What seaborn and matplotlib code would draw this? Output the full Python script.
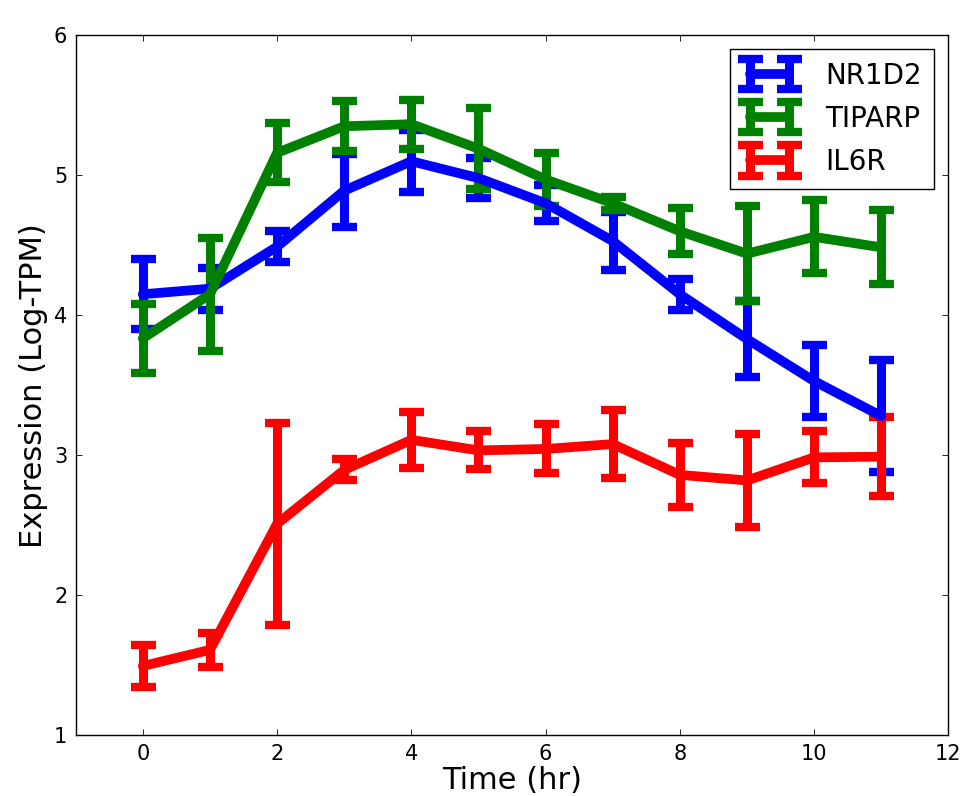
import numpy as np
import pandas as pd
import matplotlib
matplotlib.use('Agg')
import matplotlib.pyplot as plt
from matplotlib.legend_handler import HandlerErrorbar
import seaborn as sns


# values
time_hr = list(range(12))
genes = ['NR1D2', 'TIPARP', 'IL6R']
gene_colors = ['#0000ff', '#008000', '#ff0000']

nr1d2_mean = [4.15, 4.19, 4.49, 4.89, 5.10, 4.98, 4.80, 4.53, 4.15, 3.83, 3.53, 3.28]
nr1d2_err = [0.25, 0.15, 0.11, 0.26, 0.22, 0.14, 0.13, 0.21, 0.11, 0.27, 0.26, 0.40]

tiparp_mean = [3.835, 4.15, 5.16, 5.35, 5.365, 5.19, 4.97, 4.80, 4.60, 4.44, 4.56, 4.485]
tiparp_err = [0.245, 0.405, 0.21, 0.18, 0.175, 0.29, 0.19, 0.045, 0.165, 0.34, 0.26, 0.265]

il6r_mean = [1.495, 1.61, 2.51, 2.895, 3.11, 3.035, 3.045, 3.08, 2.86, 2.82, 2.985, 2.99]
il6r_err = [0.15, 0.12, 0.72, 0.075, 0.2, 0.135, 0.175, 0.24, 0.23, 0.33, 0.185, 0.28]

expr = pd.concat([
	pd.DataFrame({'time': time_hr, 'mean': nr1d2_mean, 'err': nr1d2_err, 'gene': 'NR1D2'}),
	pd.DataFrame({'time': time_hr, 'mean': tiparp_mean, 'err': tiparp_err, 'gene': 'TIPARP'}),
	pd.DataFrame({'time': time_hr, 'mean': il6r_mean, 'err': il6r_err, 'gene': 'IL6R'}),
])


### STYLE ###
sns.set_theme(style='white', rc={
	'axes.edgecolor': 'black',
	'axes.linewidth': 1.0,
	'xtick.direction': 'in',
	'ytick.direction': 'in',
	'xtick.top': True,
	'ytick.right': True,
	'xtick.bottom': True,
	'ytick.left': True,
	'xtick.major.size': 4,
	'ytick.major.size': 4,
	'xtick.major.width': 0.6,
	'ytick.major.width': 0.6,
	'xtick.color': 'black',
	'ytick.color': 'black',
	'text.color': 'black',
	'axes.labelcolor': 'black',
})
plt.rcParams['font.family'] = ['DejaVu Sans']


### PLOT ###
fig = plt.figure(figsize=(9.63, 7.96), dpi=100)
ax = fig.add_axes([0.0786, 0.0763, 0.9062, 0.8794])

palette = dict(zip(genes, gene_colors))
for gene in genes:
	sub = expr[expr.gene == gene]
	ax.errorbar(
		sub['time'], sub['mean'],
		yerr=sub['err'],
		color=palette[gene],
		linewidth=7,
		elinewidth=6.5,
		capsize=9,
		capthick=6,
		label=gene,
	)

ax.set(
	xlim=(-1, 12),
	ylim=(1, 6),
	xticks=[0, 2, 4, 6, 8, 10, 12],
	yticks=[1, 2, 3, 4, 5, 6],
)
ax.tick_params(labelsize=15, pad=6)
ax.set_xlabel('Time (hr)', fontsize=22, labelpad=2)
ax.set_ylabel('Expression (Log-TPM)', fontsize=22, labelpad=4)

### Legend with the "H" shaped errorbar handles
leg = ax.legend(
	loc='upper right',
	fontsize=20,
	numpoints=2,
	fancybox=False,
	framealpha=1.0,
	edgecolor='black',
	borderaxespad=0.5,
	handlelength=2.0,
	handletextpad=1.0,
	labelspacing=0.55,
	borderpad=0.45,
	handler_map={type(ax.containers[0]): HandlerErrorbar(yerr_size=0.55)},
)
leg.get_frame().set_linewidth(1.0)

fig.savefig('out.png', dpi=100, facecolor='white')
